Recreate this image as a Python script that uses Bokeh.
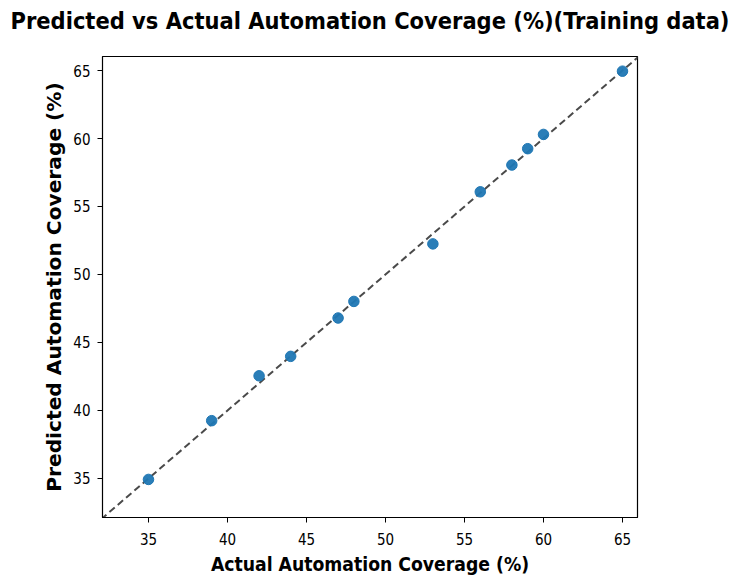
from bokeh.plotting import figure
from bokeh.models import Range1d, FixedTicker, Title
from bokeh.embed import file_html
from bokeh.resources import INLINE

actual = [35, 39, 42, 44, 47, 48, 53, 56, 58, 59, 60, 65]
predicted = [34.93, 39.25, 42.55, 43.98, 46.8, 48.02, 52.25, 56.08, 58.05, 59.25, 60.3, 64.95]
diag = [32, 66]
ticks = [35, 40, 45, 50, 55, 60, 65]

p = figure(width=739, height=584,
           output_backend="svg", toolbar_location=None,
           x_range=Range1d(32.09, 65.95), y_range=Range1d(32.13, 66.03),
           title="Predicted vs Actual Automation Coverage (%)(Training data)",
           min_border_left=102, min_border_right=102, min_border_top=56, min_border_bottom=67)

# spacer between the frame and the title
p.add_layout(Title(text=" ", text_font_size="1px", standoff=17), "above")

p.title.align = "center"
p.title.vertical_align = "top"
p.title.text_font = "DejaVu Sans Condensed"
p.title.text_font_style = "bold"
p.title.text_font_size = "23.4px"
p.title.text_color = "black"
p.title.standoff = 0

p.grid.visible = False
p.outline_line_color = "black"
p.outline_line_width = 1.2
p.background_fill_color = "white"

for ax in (p.xaxis[0], p.yaxis[0]):
    ax.ticker = FixedTicker(ticks=ticks)
    ax.minor_tick_line_color = None
    ax.major_tick_out = 5
    ax.major_tick_in = 0
    ax.major_tick_line_color = "black"
    ax.axis_line_color = "black"
    ax.major_label_text_font = "DejaVu Sans Condensed"
    ax.major_label_text_font_size = "15px"
    ax.major_label_text_color = "black"
    ax.axis_label_text_font_style = "bold"
    ax.axis_label_text_color = "black"

p.xaxis.axis_label = "Actual Automation Coverage (%)"
p.yaxis.axis_label = "Predicted Automation Coverage (%)"
p.xaxis.axis_label_text_font = "DejaVu Sans Condensed"
p.yaxis.axis_label_text_font = "DejaVu Sans"
p.xaxis.axis_label_text_font_size = "19.2px"
p.yaxis.axis_label_text_font_size = "20.2px"
p.xaxis.major_label_standoff = 10
p.yaxis.major_label_standoff = 7
p.xaxis.axis_label_standoff = 5
p.yaxis.axis_label_standoff = 4
p.yaxis.major_label_orientation = "horizontal"

p.line(diag, diag, line_color="#4a4a4a", line_width=2, line_dash="7 4")
p.scatter(actual, predicted, size=10.5, fill_color="#1f77b4", line_color="#1f77b4", fill_alpha=0.95)

open("out.html", "w").write(file_html(p, INLINE))
